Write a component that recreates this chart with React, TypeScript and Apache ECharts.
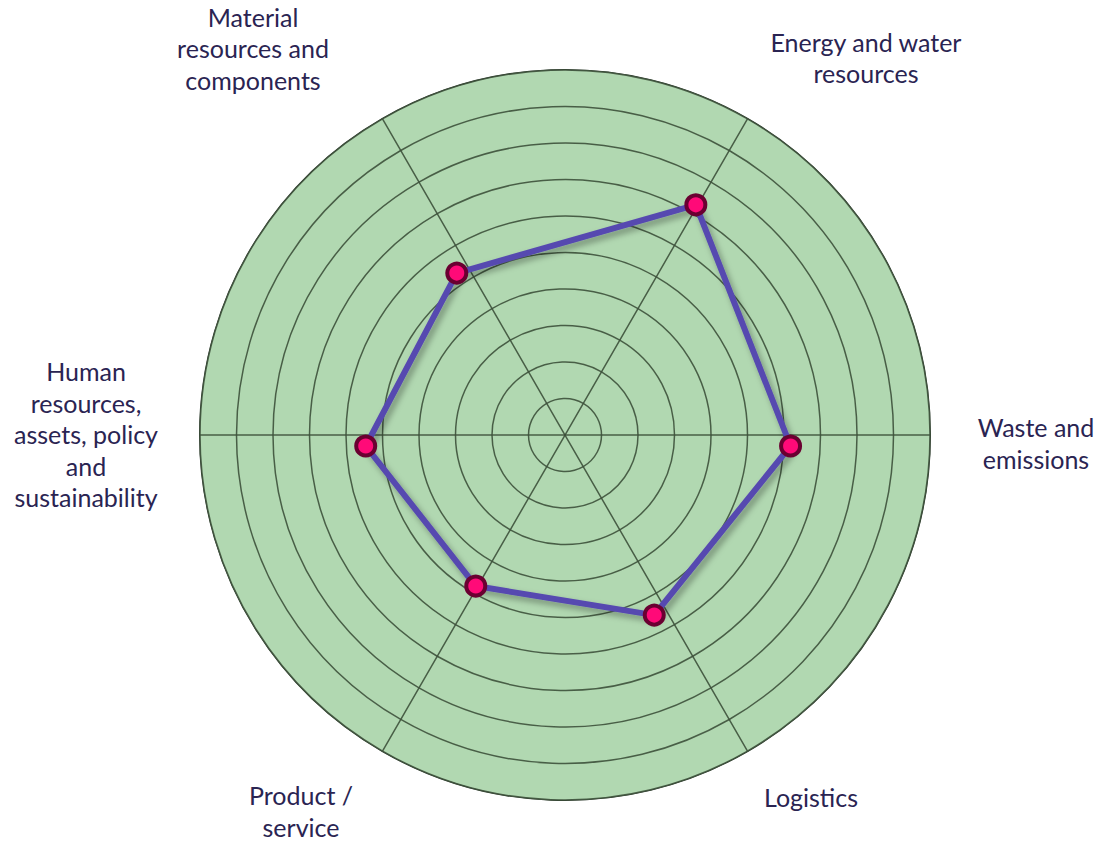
import React, { useEffect, useRef } from "react";
import * as echarts from "echarts";

// Indicators, counter-clockwise starting from the right (0°)
const categories = [
  "Waste and\nemissions",
  "Energy and water\nresources",
  "Material\nresources and\ncomponents",
  "Human\nresources,\nassets, policy\nand\nsustainability",
  "Product /\nservice",
  "Logistics",
];
const scores = [6.41, 7.63, 5.47, 5.23, 4.43, 5.35];
const maxValue = 10;
const ringCount = 10;

// label placement (layout only)
const labelPos: [number, number][] = [
  [1036, 443],
  [866, 57.5],
  [253, 48],
  [86, 434],
  [301, 811],
  [811, 797],
];

export default function App() {
  const ref = useRef<HTMLDivElement>(null);
  useEffect(() => {
    if (!ref.current) return;
    const chart = echarts.init(ref.current, null, { renderer: "svg" });
    const indicator = categories.map((c) => ({ name: c, max: maxValue, min: 0 }));
    chart.setOption({
      animation: false,
      backgroundColor: "#ffffff",
      radar: [
        {
          center: [565, 435],
          radius: 365,
          startAngle: 0,
          shape: "circle",
          splitNumber: ringCount,
          indicator,
          axisName: { show: false },
          splitArea: { show: true, areaStyle: { color: ["#b1d8b1"] } },
          splitLine: { lineStyle: { color: "#3d513b", width: 1.5, opacity: 0.9 } },
          axisLine: { lineStyle: { color: "#3d513b", width: 1.5, opacity: 0.9 } },
          axisTick: { show: false },
          axisLabel: { show: false },
        },
        {
          center: [556.6, 446],
          radius: 365,
          startAngle: 0,
          shape: "circle",
          splitNumber: ringCount,
          indicator,
          axisName: { show: false },
          splitArea: { show: false },
          splitLine: { show: false },
          axisLine: { show: false },
          axisTick: { show: false },
          axisLabel: { show: false },
        },
      ],
      series: [
        {
          type: "radar",
          radarIndex: 1,
          symbol: "circle",
          symbolSize: 19,
          lineStyle: {
            color: "#574ab0",
            width: 6,
            shadowColor: "rgba(0,0,0,0.35)",
            shadowBlur: 6,
            shadowOffsetX: 3,
            shadowOffsetY: 4,
          },
          itemStyle: {
            color: "#ff0a78",
            borderColor: "#6a0031",
            borderWidth: 4,
          },
          data: [{ value: scores, name: "Score" }],
        },
      ],
      graphic: [
        {
          type: "circle",
          shape: { cx: 565, cy: 435, r: 365 },
          style: { fill: "none", stroke: "#2e3a2e", lineWidth: 2 },
          silent: true,
        },
        ...categories.map((c, i) => ({
          type: "text",
          x: labelPos[i][0],
          y: labelPos[i][1],
          style: {
            text: c,
            fill: "#2a2452",
            font: '25px "Lato", "Open Sans", sans-serif',
            lineHeight: 31.5,
            align: "center",
            verticalAlign: "middle",
          },
        })),
      ],
    });
    return () => chart.dispose();
  }, []);
  return (
    <div
      ref={ref}
      style={{ position: "fixed", left: 0, top: 0, width: 1102, height: 843 }}
    />
  );
}
